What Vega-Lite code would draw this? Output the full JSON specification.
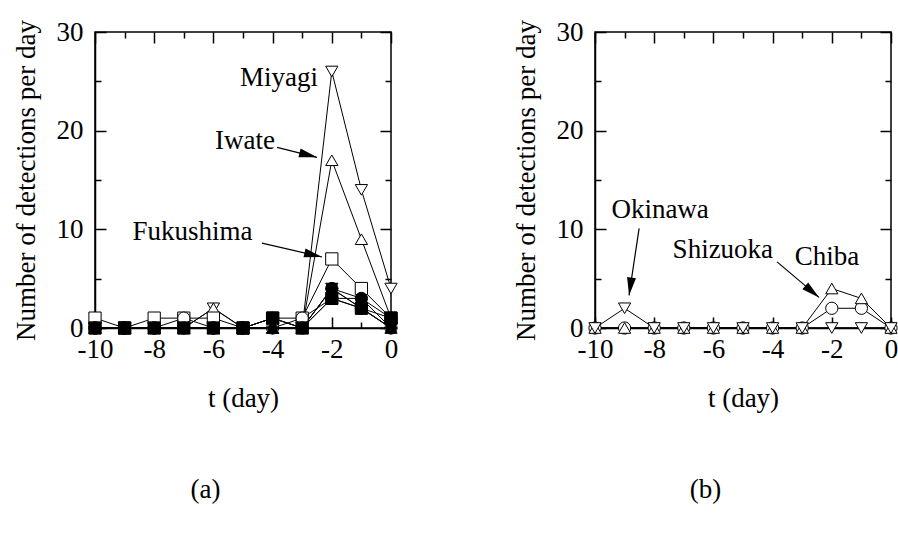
{
  "$schema": "https://vega.github.io/schema/vega-lite/v6.json",
  "background": "white",
  "padding": {"left": 11, "top": 17, "right": 0, "bottom": 5},
  "spacing": 111,
  "datasets": {
    "a": [
      {"s":"Miyagi","t":-10,"n":0},{"s":"Miyagi","t":-9,"n":0},{"s":"Miyagi","t":-8,"n":0},{"s":"Miyagi","t":-7,"n":0},{"s":"Miyagi","t":-6,"n":2},{"s":"Miyagi","t":-5,"n":0},{"s":"Miyagi","t":-4,"n":0},{"s":"Miyagi","t":-3,"n":0},{"s":"Miyagi","t":-2,"n":26},{"s":"Miyagi","t":-1,"n":14},{"s":"Miyagi","t":0,"n":4},
      {"s":"Iwate","t":-10,"n":0},{"s":"Iwate","t":-9,"n":0},{"s":"Iwate","t":-8,"n":0},{"s":"Iwate","t":-7,"n":0},{"s":"Iwate","t":-6,"n":2},{"s":"Iwate","t":-5,"n":0},{"s":"Iwate","t":-4,"n":0},{"s":"Iwate","t":-3,"n":0},{"s":"Iwate","t":-2,"n":17},{"s":"Iwate","t":-1,"n":9},{"s":"Iwate","t":0,"n":1},
      {"s":"Fukushima","t":-10,"n":1},{"s":"Fukushima","t":-9,"n":0},{"s":"Fukushima","t":-8,"n":1},{"s":"Fukushima","t":-7,"n":1},{"s":"Fukushima","t":-6,"n":1},{"s":"Fukushima","t":-5,"n":0},{"s":"Fukushima","t":-4,"n":1},{"s":"Fukushima","t":-3,"n":1},{"s":"Fukushima","t":-2,"n":7},{"s":"Fukushima","t":-1,"n":4},{"s":"Fukushima","t":0,"n":1},
      {"s":"o4","t":-10,"n":0},{"s":"o4","t":-9,"n":0},{"s":"o4","t":-8,"n":0},{"s":"o4","t":-7,"n":1},{"s":"o4","t":-6,"n":0},{"s":"o4","t":-5,"n":0},{"s":"o4","t":-4,"n":0},{"s":"o4","t":-3,"n":1},{"s":"o4","t":-2,"n":3},{"s":"o4","t":-1,"n":2},{"s":"o4","t":0,"n":0},
      {"s":"f1","t":-10,"n":0},{"s":"f1","t":-9,"n":0},{"s":"f1","t":-8,"n":0},{"s":"f1","t":-7,"n":0},{"s":"f1","t":-6,"n":0},{"s":"f1","t":-5,"n":0},{"s":"f1","t":-4,"n":1},{"s":"f1","t":-3,"n":0},{"s":"f1","t":-2,"n":4},{"s":"f1","t":-1,"n":3},{"s":"f1","t":0,"n":1},
      {"s":"f2","t":-10,"n":0},{"s":"f2","t":-9,"n":0},{"s":"f2","t":-8,"n":0},{"s":"f2","t":-7,"n":0},{"s":"f2","t":-6,"n":0},{"s":"f2","t":-5,"n":0},{"s":"f2","t":-4,"n":0},{"s":"f2","t":-3,"n":0},{"s":"f2","t":-2,"n":4},{"s":"f2","t":-1,"n":2},{"s":"f2","t":0,"n":0},
      {"s":"f3","t":-10,"n":0},{"s":"f3","t":-9,"n":0},{"s":"f3","t":-8,"n":0},{"s":"f3","t":-7,"n":0},{"s":"f3","t":-6,"n":0},{"s":"f3","t":-5,"n":0},{"s":"f3","t":-4,"n":1},{"s":"f3","t":-3,"n":0},{"s":"f3","t":-2,"n":3},{"s":"f3","t":-1,"n":2},{"s":"f3","t":0,"n":1},
      {"s":"f4","t":-10,"n":0},{"s":"f4","t":-9,"n":0},{"s":"f4","t":-8,"n":0},{"s":"f4","t":-7,"n":0},{"s":"f4","t":-6,"n":0},{"s":"f4","t":-5,"n":0},{"s":"f4","t":-4,"n":0},{"s":"f4","t":-3,"n":0},{"s":"f4","t":-2,"n":3},{"s":"f4","t":-1,"n":3},{"s":"f4","t":0,"n":0},
      {"s":"f5","t":-10,"n":0},{"s":"f5","t":-9,"n":0},{"s":"f5","t":-8,"n":0},{"s":"f5","t":-7,"n":0},{"s":"f5","t":-6,"n":0},{"s":"f5","t":-5,"n":0},{"s":"f5","t":-4,"n":1},{"s":"f5","t":-3,"n":0},{"s":"f5","t":-2,"n":4},{"s":"f5","t":-1,"n":2},{"s":"f5","t":0,"n":0}
    ],
    "b": [
      {"s":"Shizuoka","t":-10,"n":0},{"s":"Shizuoka","t":-9,"n":0},{"s":"Shizuoka","t":-8,"n":0},{"s":"Shizuoka","t":-7,"n":0},{"s":"Shizuoka","t":-6,"n":0},{"s":"Shizuoka","t":-5,"n":0},{"s":"Shizuoka","t":-4,"n":0},{"s":"Shizuoka","t":-3,"n":0},{"s":"Shizuoka","t":-2,"n":2},{"s":"Shizuoka","t":-1,"n":2},{"s":"Shizuoka","t":0,"n":0},
      {"s":"Chiba","t":-10,"n":0},{"s":"Chiba","t":-9,"n":0},{"s":"Chiba","t":-8,"n":0},{"s":"Chiba","t":-7,"n":0},{"s":"Chiba","t":-6,"n":0},{"s":"Chiba","t":-5,"n":0},{"s":"Chiba","t":-4,"n":0},{"s":"Chiba","t":-3,"n":0},{"s":"Chiba","t":-2,"n":4},{"s":"Chiba","t":-1,"n":3},{"s":"Chiba","t":0,"n":0},
      {"s":"Okinawa","t":-10,"n":0},{"s":"Okinawa","t":-9,"n":2},{"s":"Okinawa","t":-8,"n":0},{"s":"Okinawa","t":-7,"n":0},{"s":"Okinawa","t":-6,"n":0},{"s":"Okinawa","t":-5,"n":0},{"s":"Okinawa","t":-4,"n":0},{"s":"Okinawa","t":-3,"n":0},{"s":"Okinawa","t":-2,"n":0},{"s":"Okinawa","t":-1,"n":0},{"s":"Okinawa","t":0,"n":0}
    ],
    "la": [
      {"label":"Miyagi","t":-3.78,"n":25.3},
      {"label":"Iwate","t":-4.93,"n":19.0},
      {"label":"Fukushima","t":-6.71,"n":9.7}
    ],
    "lb": [
      {"label":"Okinawa","t":-7.8,"n":12.0},
      {"label":"Shizuoka","t":-5.68,"n":7.9},
      {"label":"Chiba","t":-2.16,"n":7.2}
    ],
    "ra": [
      {"t":-3.85,"n":18.3,"t2":-2.5,"n2":17.3},
      {"t":-4.36,"n":8.6,"t2":-2.33,"n2":7.2}
    ],
    "rb": [
      {"t":-8.51,"n":10.1,"t2":-8.85,"n2":3.3},
      {"t":-3.85,"n":6.7,"t2":-2.43,"n2":3.1}
    ]
  },
  "resolve": {"scale": {"shape": "shared", "fill": "shared"}},
  "hconcat": [
    {
      "width": 296, "height": 296,
      "title": {"text": "(a)", "orient": "bottom", "frame": "bounds", "anchor": "middle", "offset": 66, "font": "Liberation Serif, serif", "fontSize": 27, "fontWeight": "normal", "color": "black"},
      "resolve": {"axis": {"x": "independent", "y": "independent"}},
      "layer": [
        {
          "data": {"name": "a"},
          "mark": {"type": "line", "color": "black", "strokeWidth": 1},
          "encoding": {
            "x": {"field": "t", "type": "quantitative", "scale": {"domain": [-10, 0], "nice": false, "zero": false},
                  "axis": {"orient": "bottom", "title": "t (day)", "values": [-10,-9,-8,-7,-6,-5,-4,-3,-2,-1,0], "labelExpr": "datum.value % 2 === 0 ? '' + datum.value : ''", "tickSize": {"condition": {"test": "datum.value % 2 === 0", "value": -11}, "value": -6}, "labelPadding": 19, "titlePadding": 18, "labelFlush": false}},
            "y": {"field": "n", "type": "quantitative", "scale": {"domain": [0, 30], "nice": false},
                  "axis": {"orient": "left", "title": "Number of detections per day", "values": [0,5,10,15,20,25,30], "labelExpr": "datum.value % 10 === 0 ? '' + datum.value : ''", "tickSize": {"condition": {"test": "datum.value % 10 === 0", "value": -11}, "value": -6}, "labelPadding": 23, "titlePadding": 16, "labelFlush": false}},
            "detail": {"field": "s", "type": "nominal"}
          }
        },
        {
          "data": {"name": "a"},
          "mark": {"type": "point", "filled": true, "stroke": "black", "strokeWidth": 1, "size": 150, "opacity": 1},
          "encoding": {
            "x": {"field": "t", "type": "quantitative", "axis": null},
            "y": {"field": "n", "type": "quantitative", "axis": null},
            "shape": {"field": "s", "type": "nominal", "legend": null, "scale": {"domain": ["Miyagi","Iwate","Fukushima","o4","f1","f2","f3","f4","f5","Shizuoka","Chiba","Okinawa"], "range": ["triangle-down","triangle-up","square","circle","circle","diamond","square","triangle-up","triangle-down","circle","triangle-up","triangle-down"]}},
            "fill": {"field": "s", "type": "nominal", "legend": null, "scale": {"domain": ["Miyagi","Iwate","Fukushima","o4","f1","f2","f3","f4","f5","Shizuoka","Chiba","Okinawa"], "range": ["white","white","white","white","black","black","black","black","black","white","white","white"]}}
          }
        },
        {
          "data": {"name": "a"},
          "mark": {"type": "point", "opacity": 0},
          "encoding": {
            "x": {"field": "t", "type": "quantitative", "axis": {"orient": "top", "title": null, "labels": false, "domain": false, "values": [-10,-9,-8,-7,-6,-5,-4,-3,-2,-1,0], "tickSize": {"condition": {"test": "datum.value % 2 === 0", "value": -11}, "value": -6}}},
            "y": {"field": "n", "type": "quantitative", "axis": {"orient": "right", "title": null, "labels": false, "domain": false, "values": [0,5,10,15,20,25,30], "tickSize": {"condition": {"test": "datum.value % 10 === 0", "value": -11}, "value": -6}}}
          }
        },
        {
          "data": {"name": "la"},
          "mark": {"type": "text", "font": "Liberation Serif, serif", "fontSize": 27, "color": "black", "align": "center", "baseline": "middle"},
          "encoding": {
            "x": {"field": "t", "type": "quantitative", "axis": null},
            "y": {"field": "n", "type": "quantitative", "axis": null},
            "text": {"field": "label"}
          }
        },
        {
          "data": {"name": "ra"},
          "mark": {"type": "rule", "color": "black", "strokeWidth": 1.2},
          "encoding": {
            "x": {"field": "t", "type": "quantitative", "axis": null},
            "y": {"field": "n", "type": "quantitative", "axis": null},
            "x2": {"field": "t2"},
            "y2": {"field": "n2"}
          }
        },
        {
          "data": {"values": [{"t": -2.5, "n": 17.3}]},
          "mark": {"type": "point", "shape": "M0,0 L0.25,1 L-0.25,1 Z", "size": 1296, "angle": 104, "filled": true, "color": "black", "opacity": 1},
          "encoding": {
            "x": {"field": "t", "type": "quantitative", "axis": null},
            "y": {"field": "n", "type": "quantitative", "axis": null}
          }
        },
        {
          "data": {"values": [{"t": -2.33, "n": 7.2}]},
          "mark": {"type": "point", "shape": "M0,0 L0.25,1 L-0.25,1 Z", "size": 1296, "angle": 103, "filled": true, "color": "black", "opacity": 1},
          "encoding": {
            "x": {"field": "t", "type": "quantitative", "axis": null},
            "y": {"field": "n", "type": "quantitative", "axis": null}
          }
        }
      ]
    },
    {
      "width": 296, "height": 296,
      "title": {"text": "(b)", "orient": "bottom", "frame": "bounds", "anchor": "middle", "offset": 66, "font": "Liberation Serif, serif", "fontSize": 27, "fontWeight": "normal", "color": "black"},
      "resolve": {"axis": {"x": "independent", "y": "independent"}},
      "layer": [
        {
          "data": {"name": "b"},
          "mark": {"type": "line", "color": "black", "strokeWidth": 1},
          "encoding": {
            "x": {"field": "t", "type": "quantitative", "scale": {"domain": [-10, 0], "nice": false, "zero": false},
                  "axis": {"orient": "bottom", "title": "t (day)", "values": [-10,-9,-8,-7,-6,-5,-4,-3,-2,-1,0], "labelExpr": "datum.value % 2 === 0 ? '' + datum.value : ''", "tickSize": {"condition": {"test": "datum.value % 2 === 0", "value": -11}, "value": -6}, "labelPadding": 19, "titlePadding": 18, "labelFlush": false}},
            "y": {"field": "n", "type": "quantitative", "scale": {"domain": [0, 30], "nice": false},
                  "axis": {"orient": "left", "title": "Number of detections per day", "values": [0,5,10,15,20,25,30], "labelExpr": "datum.value % 10 === 0 ? '' + datum.value : ''", "tickSize": {"condition": {"test": "datum.value % 10 === 0", "value": -11}, "value": -6}, "labelPadding": 23, "titlePadding": 16, "labelFlush": false}},
            "detail": {"field": "s", "type": "nominal"}
          }
        },
        {
          "data": {"name": "b"},
          "mark": {"type": "point", "filled": true, "stroke": "black", "strokeWidth": 1, "size": 150, "opacity": 1},
          "encoding": {
            "x": {"field": "t", "type": "quantitative", "axis": null},
            "y": {"field": "n", "type": "quantitative", "axis": null},
            "shape": {"field": "s", "type": "nominal", "legend": null},
            "fill": {"field": "s", "type": "nominal", "legend": null}
          }
        },
        {
          "data": {"name": "b"},
          "mark": {"type": "point", "opacity": 0},
          "encoding": {
            "x": {"field": "t", "type": "quantitative", "axis": {"orient": "top", "title": null, "labels": false, "domain": false, "values": [-10,-9,-8,-7,-6,-5,-4,-3,-2,-1,0], "tickSize": {"condition": {"test": "datum.value % 2 === 0", "value": -11}, "value": -6}}},
            "y": {"field": "n", "type": "quantitative", "axis": {"orient": "right", "title": null, "labels": false, "domain": false, "values": [0,5,10,15,20,25,30], "tickSize": {"condition": {"test": "datum.value % 10 === 0", "value": -11}, "value": -6}}}
          }
        },
        {
          "data": {"name": "lb"},
          "mark": {"type": "text", "font": "Liberation Serif, serif", "fontSize": 27, "color": "black", "align": "center", "baseline": "middle"},
          "encoding": {
            "x": {"field": "t", "type": "quantitative", "axis": null},
            "y": {"field": "n", "type": "quantitative", "axis": null},
            "text": {"field": "label"}
          }
        },
        {
          "data": {"name": "rb"},
          "mark": {"type": "rule", "color": "black", "strokeWidth": 1.2},
          "encoding": {
            "x": {"field": "t", "type": "quantitative", "axis": null},
            "y": {"field": "n", "type": "quantitative", "axis": null},
            "x2": {"field": "t2"},
            "y2": {"field": "n2"}
          }
        },
        {
          "data": {"values": [{"t": -8.85, "n": 3.3}]},
          "mark": {"type": "point", "shape": "M0,0 L0.25,1 L-0.25,1 Z", "size": 1296, "angle": 188, "filled": true, "color": "black", "opacity": 1},
          "encoding": {
            "x": {"field": "t", "type": "quantitative", "axis": null},
            "y": {"field": "n", "type": "quantitative", "axis": null}
          }
        },
        {
          "data": {"values": [{"t": -2.43, "n": 3.1}]},
          "mark": {"type": "point", "shape": "M0,0 L0.25,1 L-0.25,1 Z", "size": 1296, "angle": 130, "filled": true, "color": "black", "opacity": 1},
          "encoding": {
            "x": {"field": "t", "type": "quantitative", "axis": null},
            "y": {"field": "n", "type": "quantitative", "axis": null}
          }
        }
      ]
    }
  ],
  "config": {
    "view": {"stroke": "black", "strokeWidth": 1.5},
    "font": "Liberation Serif, serif",
    "axis": {"labelFont": "Liberation Serif, serif", "labelFontSize": 27, "labelColor": "black", "titleFont": "Liberation Serif, serif", "titleFontSize": 27, "titleFontWeight": "normal", "titleColor": "black", "domainColor": "black", "domainWidth": 1.5, "tickColor": "black", "tickWidth": 1.5, "grid": false, "labelOverlap": false}
  }
}
